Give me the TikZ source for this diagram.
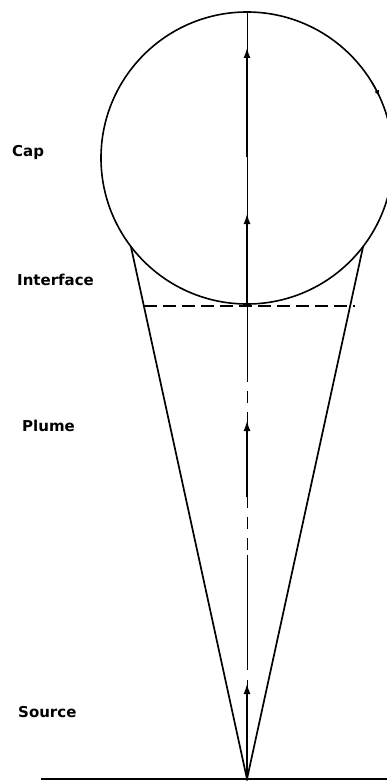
\documentclass[tikz,border=0pt]{standalone}
\usepackage{fontspec}
\setmainfont{DejaVu Sans}
\usepackage{tikz}
\usetikzlibrary{arrows.meta}

\tikzset{
  lbl/.style={font=\bfseries\fontsize{15}{18}\selectfont, anchor=base west, inner sep=0pt},
  flow/.style={line width=2.6pt, -{Latex[length=11pt,width=7pt]}},
  axis/.style={line width=1pt},
}

\begin{document}
\begin{tikzpicture}[x=1pt,y=-1pt]
  \useasboundingbox (0,0) rectangle (387,781);
  % cap
  \node[draw, circle, line width=1.6pt, minimum size=292pt, inner sep=0pt] (cap) at (247,158) {};
  \coordinate (src) at (247,779);
  \coordinate (tl) at (131,247);
  \coordinate (tr) at (363,247);
  \coordinate (ifl) at (144,306);
  \coordinate (ifr) at (355,306);
  % plume edges and ground
  \draw[line width=1.7pt] (tl) -- (src) -- (tr);
  \draw[line width=1.5pt] (41,779) -- (387,779);
  % interface
  \draw[line width=2.4pt, dash pattern=on 13pt off 6pt] (ifl) -- (ifr);
  % axis
  \draw[axis] (cap.north) -- (247,370);
  \draw[axis, dash pattern=on 12pt off 9pt] (247,370) -- (247,555);
  \draw[axis] (247,555) -- (247,670);
  \draw[axis] (247,680) -- (src);
  % flow arrows
  \draw[flow] (247,157) -- (247,47);
  \draw[flow] (cap.south) -- (247,213);
  \draw[flow] (247,497) -- (247,420);
  \draw[flow] (src) -- (247,683);
  \draw[line width=1.2pt, -{Latex[length=6pt,width=5pt]}] (cap.center) ++(-31:146) arc[start angle=-31, end angle=-25, radius=146];
  % labels
  \node[lbl] (caplbl) at (12,156) {Cap};
  \node[lbl] (iflbl) at (17,285) {Interface};
  \node[lbl] (plumelbl) at (22,431) {Plume};
  \node[lbl] (srclbl) at (18,717) {Source};
\end{tikzpicture}
\end{document}
